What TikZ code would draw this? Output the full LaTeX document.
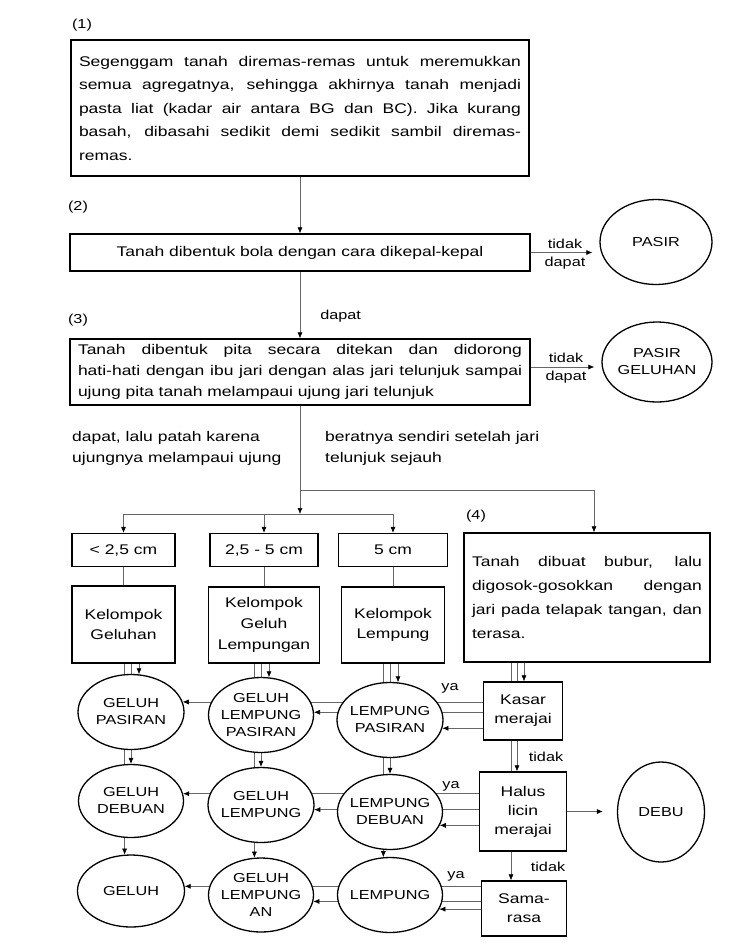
\documentclass[tikz,border=0pt]{standalone}
\usepackage{fontspec}
\setmainfont[FakeStretch=1.25]{Liberation Sans}
\usetikzlibrary{shapes.geometric,arrows.meta,backgrounds}

\tikzset{
  box/.style={draw, line width=1.3pt, fill=white, inner sep=8pt, font=\fontsize{14}{21}\selectfont},
  sbox/.style={box, inner sep=2pt, align=center},
  oval/.style={draw, ellipse, line width=1.3pt, fill=white, inner xsep=-6pt, inner ysep=-4pt,
    align=center, font=\fontsize{13}{17}\selectfont},
  link/.style={color=black!60, line width=0.6pt},
  arr/.style={link, -{Latex[length=6pt,width=5pt,color=black]}},
  num/.style={font=\fontsize{13}{16}\selectfont, inner sep=0pt, text=black},
  note/.style={font=\fontsize{14}{21}\selectfont, inner sep=0pt, align=left}
}

\begin{document}
\begin{tikzpicture}[x=1pt,y=-1pt]
  \useasboundingbox (0,0) rectangle (739,951);

  % step numbers
  \node[num] (n1) at (82,25) {(1)};
  \node[num] (n2) at (78,207) {(2)};
  \node[num] (n3) at (78,320) {(3)};
  \node[num] (n4) at (476,516) {(4)};

  % main steps
  \node[box, text width=442pt, align=justify, minimum height=136pt, font=\fontsize{14}{23.5}\selectfont] (b1) at (300,108)
    {Segenggam tanah diremas-remas untuk meremukkan\linebreak
     semua agregatnya, sehingga akhirnya tanah menjadi\linebreak
     pasta liat (kadar air antara BG dan BC). Jika kurang\linebreak
     basah, dibasahi sedikit demi sedikit sambil diremas-\linebreak
     remas.};
  \node[box, minimum width=460pt, minimum height=37pt] (b2) at (300,252.5)
    {Tanah dibentuk bola dengan cara dikepal-kepal};
  \node[box, text width=444pt, align=justify, minimum height=66pt, inner ysep=5pt] (b3) at (300,372)
    {Tanah dibentuk pita secara ditekan dan didorong\linebreak
     hati-hati dengan ibu jari dengan alas jari telunjuk sampai\linebreak
     ujung pita tanah melampaui ujung jari telunjuk};
  \node[oval, minimum width=112pt, minimum height=85pt] (pasir) at (656,242) {PASIR};
  \node[oval, minimum width=110pt, minimum height=80pt] (pg) at (657,362) {PASIR\\GELUHAN};

  \node[note, anchor=north west] (t1) at (72,431) {dapat, lalu patah karena\\ujungnya melampaui ujung};
  \node[note, anchor=north west] (t2) at (325,431) {beratnya sendiri setelah jari\\telunjuk sejauh};

  \coordinate (fork) at (300,490);
  \coordinate (split) at (300,514);

  % ribbon length
  \node[sbox, minimum width=103pt, minimum height=33pt] (s1) at (123.5,550) {< 2,5 cm};
  \node[sbox, minimum width=108pt, minimum height=33pt] (s2) at (264,550) {2,5 - 5 cm};
  \node[sbox, minimum width=109pt, minimum height=33pt] (s3) at (393,550) {5 cm};
  \node[sbox, minimum width=103pt, minimum height=77pt, font=\fontsize{14}{20}\selectfont] (g1) at (123.5,624.5) {Kelompok\\Geluhan};
  \node[sbox, minimum width=111pt, minimum height=76pt, font=\fontsize{14}{21}\selectfont] (g2) at (264,625) {Kelompok\\Geluh\\Lempungan};
  \node[sbox, minimum width=103pt, minimum height=76pt, font=\fontsize{14}{20}\selectfont] (g3) at (393,625) {Kelompok\\Lempung};

  \node[box, text width=230pt, align=justify, minimum height=129pt, font=\fontsize{14}{24}\selectfont] (b4) at (587,597.5)
    {Tanah dibuat bubur, lalu\linebreak
     digosok-gosokkan dengan\linebreak
     jari pada telapak tangan, dan\linebreak
     terasa.};

  % texture classes
  \node[oval, minimum width=106pt, minimum height=75pt] (gp) at (131,712) {GELUH\\PASIRAN};
  \node[oval, minimum width=105pt, minimum height=75pt] (glp) at (261,715) {GELUH\\LEMPUNG\\PASIRAN};
  \node[oval, minimum width=106pt, minimum height=75pt] (lp) at (390,720) {LEMPUNG\\PASIRAN};
  \node[oval, minimum width=105pt, minimum height=73pt] (gd) at (131,801) {GELUH\\DEBUAN};
  \node[oval, minimum width=106pt, minimum height=75pt] (gl) at (261,805) {GELUH\\LEMPUNG};
  \node[oval, minimum width=105pt, minimum height=75pt] (ld) at (390,812) {LEMPUNG\\DEBUAN};
  \node[oval, minimum width=107pt, minimum height=72pt] (ge) at (131,891) {GELUH};
  \node[oval, minimum width=105pt, minimum height=74pt] (gla) at (261,895) {GELUH\\LEMPUNG\\AN};
  \node[oval, minimum width=105pt, minimum height=75pt] (le) at (390,895) {LEMPUNG};

  % feel
  \node[sbox, minimum width=79pt, minimum height=58pt, font=\fontsize{14}{19}\selectfont] (kasar) at (523,711) {Kasar\\merajai};
  \node[sbox, minimum width=87pt, minimum height=79pt, font=\fontsize{14}{19}\selectfont] (halus) at (523,811.5) {Halus\\licin\\merajai};
  \node[sbox, minimum width=85pt, minimum height=55pt, font=\fontsize{14}{19}\selectfont] (sama) at (524,908.5) {Sama-\\rasa};
  \node[oval, minimum width=87pt, minimum height=100pt] (debu) at (661,812) {DEBU};

  \node[num] (ya1) at (450,688) {ya};
  \node[num] (ya2) at (451,786) {ya};
  \node[num] (ya3) at (456,876) {ya};
  \node[num] (td1) at (546,757) {tidak};
  \node[num] (td2) at (548,867) {tidak};

  \begin{pgfonlayer}{background}
    \draw[arr] (b1.south) -- (b2.north);
    \draw[arr, shorten >=7pt] (b2.east) -- (b2.east -| pasir.west)
      node[num, midway, above=4pt] {tidak} node[num, midway, below=4pt] {dapat};
    \draw[arr] (b2.south) -- node[num, pos=0.66, right=20pt] {dapat} (b3.north);
    \draw[arr, shorten >=7pt] ([yshift=5pt]b3.east) -- ([yshift=5pt]b3.east -| pg.west)
      node[num, midway, above=4pt] {tidak} node[num, midway, below=4pt] {dapat};

    \draw[link] (b3.south) -- (fork);
    \draw[arr] (fork) -- (split);
    \draw[arr] (fork) -| ([xshift=7pt]b4.north);
    \draw[link] (s1.north |- split) -- (s3.north |- split);
    \foreach \s/\g in {s1/g1,s2/g2,s3/g3} {
      \draw[arr] (\s.north |- split) -- (\s.north);
      \draw[link] (\s.south) -- (\g.north);
    }

    % columns
    \foreach \g/\a/\b/\c in {g1/gp/gd/ge, g2/glp/gl/gla, g3/lp/ld/le} {
      \draw[arr] (\a.78 |- \g.south) -- (\a.78);
      \draw[arr] (\b.90 |- \g.south) -- (\b.90);
      \draw[arr] (\c.100 |- \g.south) -- (\c.100);
    }
    % rows
    \foreach \r/\a/\b/\c in {kasar/gp.11/glp.3/lp.-9, halus/gd.8/gl.-5/ld.-15, sama/ge.5/gla.-7/le.-16} {
      \draw[arr] (\r.west |- \a) -- (\a);
      \draw[arr] (\r.west |- \b) -- (\b);
      \draw[arr] (\r.west |- \c) -- (\c);
    }
    \draw[arr] ([xshift=1pt]kasar.north |- b4.south) -- ([xshift=1pt]kasar.north);
    \draw[arr] ([xshift=-6pt]halus.north |- b4.south) -- ([xshift=-6pt]halus.north);
    \draw[arr] ([xshift=-13pt]sama.north |- b4.south) -- ([xshift=-13pt]sama.north);
    \draw[arr, shorten >=14pt] (halus.east) -- (halus.east -| debu.west);
  \end{pgfonlayer}
\end{tikzpicture}
\end{document}
